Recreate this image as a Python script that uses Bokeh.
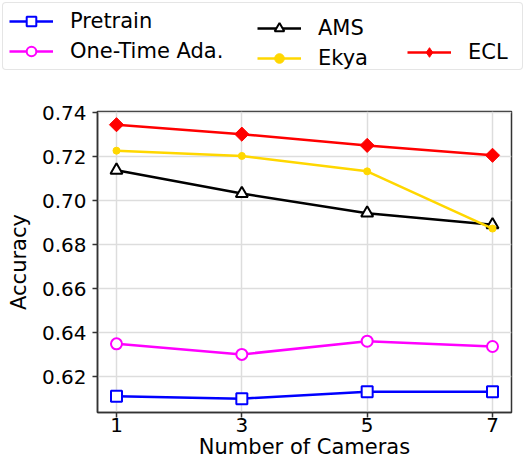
import numpy as np
from bokeh.plotting import figure
from bokeh.models import Legend, LegendItem, FixedTicker, PrintfTickFormatter, Range1d
from bokeh.embed import file_html
from bokeh.resources import INLINE

cameras = [1, 3, 5, 7]
pretrain = [0.6112, 0.6101, 0.6132, 0.6132]
one_time = [0.6350, 0.6302, 0.6362, 0.6338]
ams = [0.7139, 0.7033, 0.6944, 0.6891]
ekya = [0.7228, 0.7204, 0.7134, 0.6874]
ecl = [0.7346, 0.7303, 0.7252, 0.7207]
y_ticks = [0.62, 0.64, 0.66, 0.68, 0.70, 0.72, 0.74]
x_ticks = [1, 3, 5, 7]

FONT = "DejaVu Sans"
FS = "21px"
LW = 2.5

series = [
    ("Pretrain", pretrain, "#0000ff", dict(marker="square", size=11, fill_color="white", line_width=2)),
    ("One-Time Ada.", one_time, "#ff00ff", dict(marker="circle", size=11, fill_color="white", line_width=2)),
    ("AMS", ams, "black", dict(marker="triangle", size=12, fill_color="white", line_width=2)),
    ("Ekya", ekya, "#ffd700", dict(marker="circle", size=7, fill_color="#ffd700")),
    ("ECL", ecl, "#ff0000", dict(marker="square", size=10, angle=np.pi / 4, fill_color="#ff0000", line_width=1)),
]


def draw(fig, visible=True, legend_only=False):
    out = []
    for name, ys, color, mk in series:
        mk = dict(mk)
        if legend_only and "angle" in mk:
            # the legend swatch ignores the angle, so use a diamond there
            mk.pop("angle")
            mk["marker"] = "diamond"
            mk["size"] = 17
        rl = fig.line(cameras, ys, color=color, line_width=LW, visible=visible)
        rm = fig.scatter(cameras, ys, line_color=color, visible=visible, **mk)
        out.append(LegendItem(label=name, renderers=[rl, rm]))
    return out


# main chart
p = figure(width=526, height=394, output_backend="svg", toolbar_location=None,
           x_range=Range1d(0.697, 7.303), y_range=Range1d(0.6038, 0.7406),
           min_border_left=97, min_border_right=15, min_border_bottom=54, min_border_top=39)
draw(p)

p.xaxis.ticker = FixedTicker(ticks=x_ticks)
p.yaxis.ticker = FixedTicker(ticks=y_ticks)
p.yaxis.formatter = PrintfTickFormatter(format="%.2f")
p.xaxis.axis_label = "Number of Cameras"
p.yaxis.axis_label = "Accuracy"
for ax in (p.xaxis, p.yaxis):
    ax.axis_label_text_font = FONT
    ax.axis_label_text_font_style = "normal"
    ax.axis_label_text_font_size = FS
    ax.major_label_text_font = FONT
    ax.major_label_text_font_size = "20px"
    ax.major_label_text_color = "black"
    ax.axis_label_text_color = "black"
    ax.minor_tick_line_color = None
    ax.major_tick_out = 5
    ax.major_tick_in = 0
    ax.axis_line_color = "#333333"
    ax.major_tick_line_color = "#333333"
    ax.axis_line_width = 1.5
    ax.major_tick_line_width = 1.5
p.xaxis.major_label_standoff = 0
p.yaxis.major_label_standoff = 6
p.xaxis.axis_label_standoff = 0
p.yaxis.axis_label_standoff = 8

p.grid.grid_line_color = "#dddddd"
p.grid.grid_line_width = 1.5
p.outline_line_color = "#333333"
p.outline_line_width = 1.5
p.outline_line_alpha = 1

# legend strip above the chart
lf = figure(width=526, height=72, output_backend="svg", toolbar_location=None,
            x_range=Range1d(0.697, 7.303), y_range=Range1d(0.6038, 0.7406),
            x_axis_location=None, y_axis_location=None,
            min_border=0, outline_line_color=None)
lf.grid.visible = False
items = draw(lf, visible=False, legend_only=True)


def make_legend(its, loc, label_width=20, border=False):
    lg = Legend(items=its, nrows=2, orientation="vertical", location=loc)
    lg.label_text_font = FONT
    lg.label_text_font_size = FS
    lg.label_text_color = "black"
    lg.glyph_width = 44
    lg.glyph_height = 24
    lg.label_standoff = 17
    lg.label_width = label_width
    lg.spacing = 6
    lg.padding = 6
    lg.margin = 0
    if border:
        lg.border_line_color = "#cccccc"
        lg.border_line_width = 1.5
        lg.border_radius = 4
    else:
        lg.border_line_color = None
        lg.background_fill_alpha = 0
    lf.add_layout(lg)


make_legend(items[0:2], (2, 2), label_width=446, border=True)
make_legend(items[2:4], (257, 2))
make_legend(items[4:5], (407, 2))

open("out.html", "w").write(file_html([lf, p], INLINE))
